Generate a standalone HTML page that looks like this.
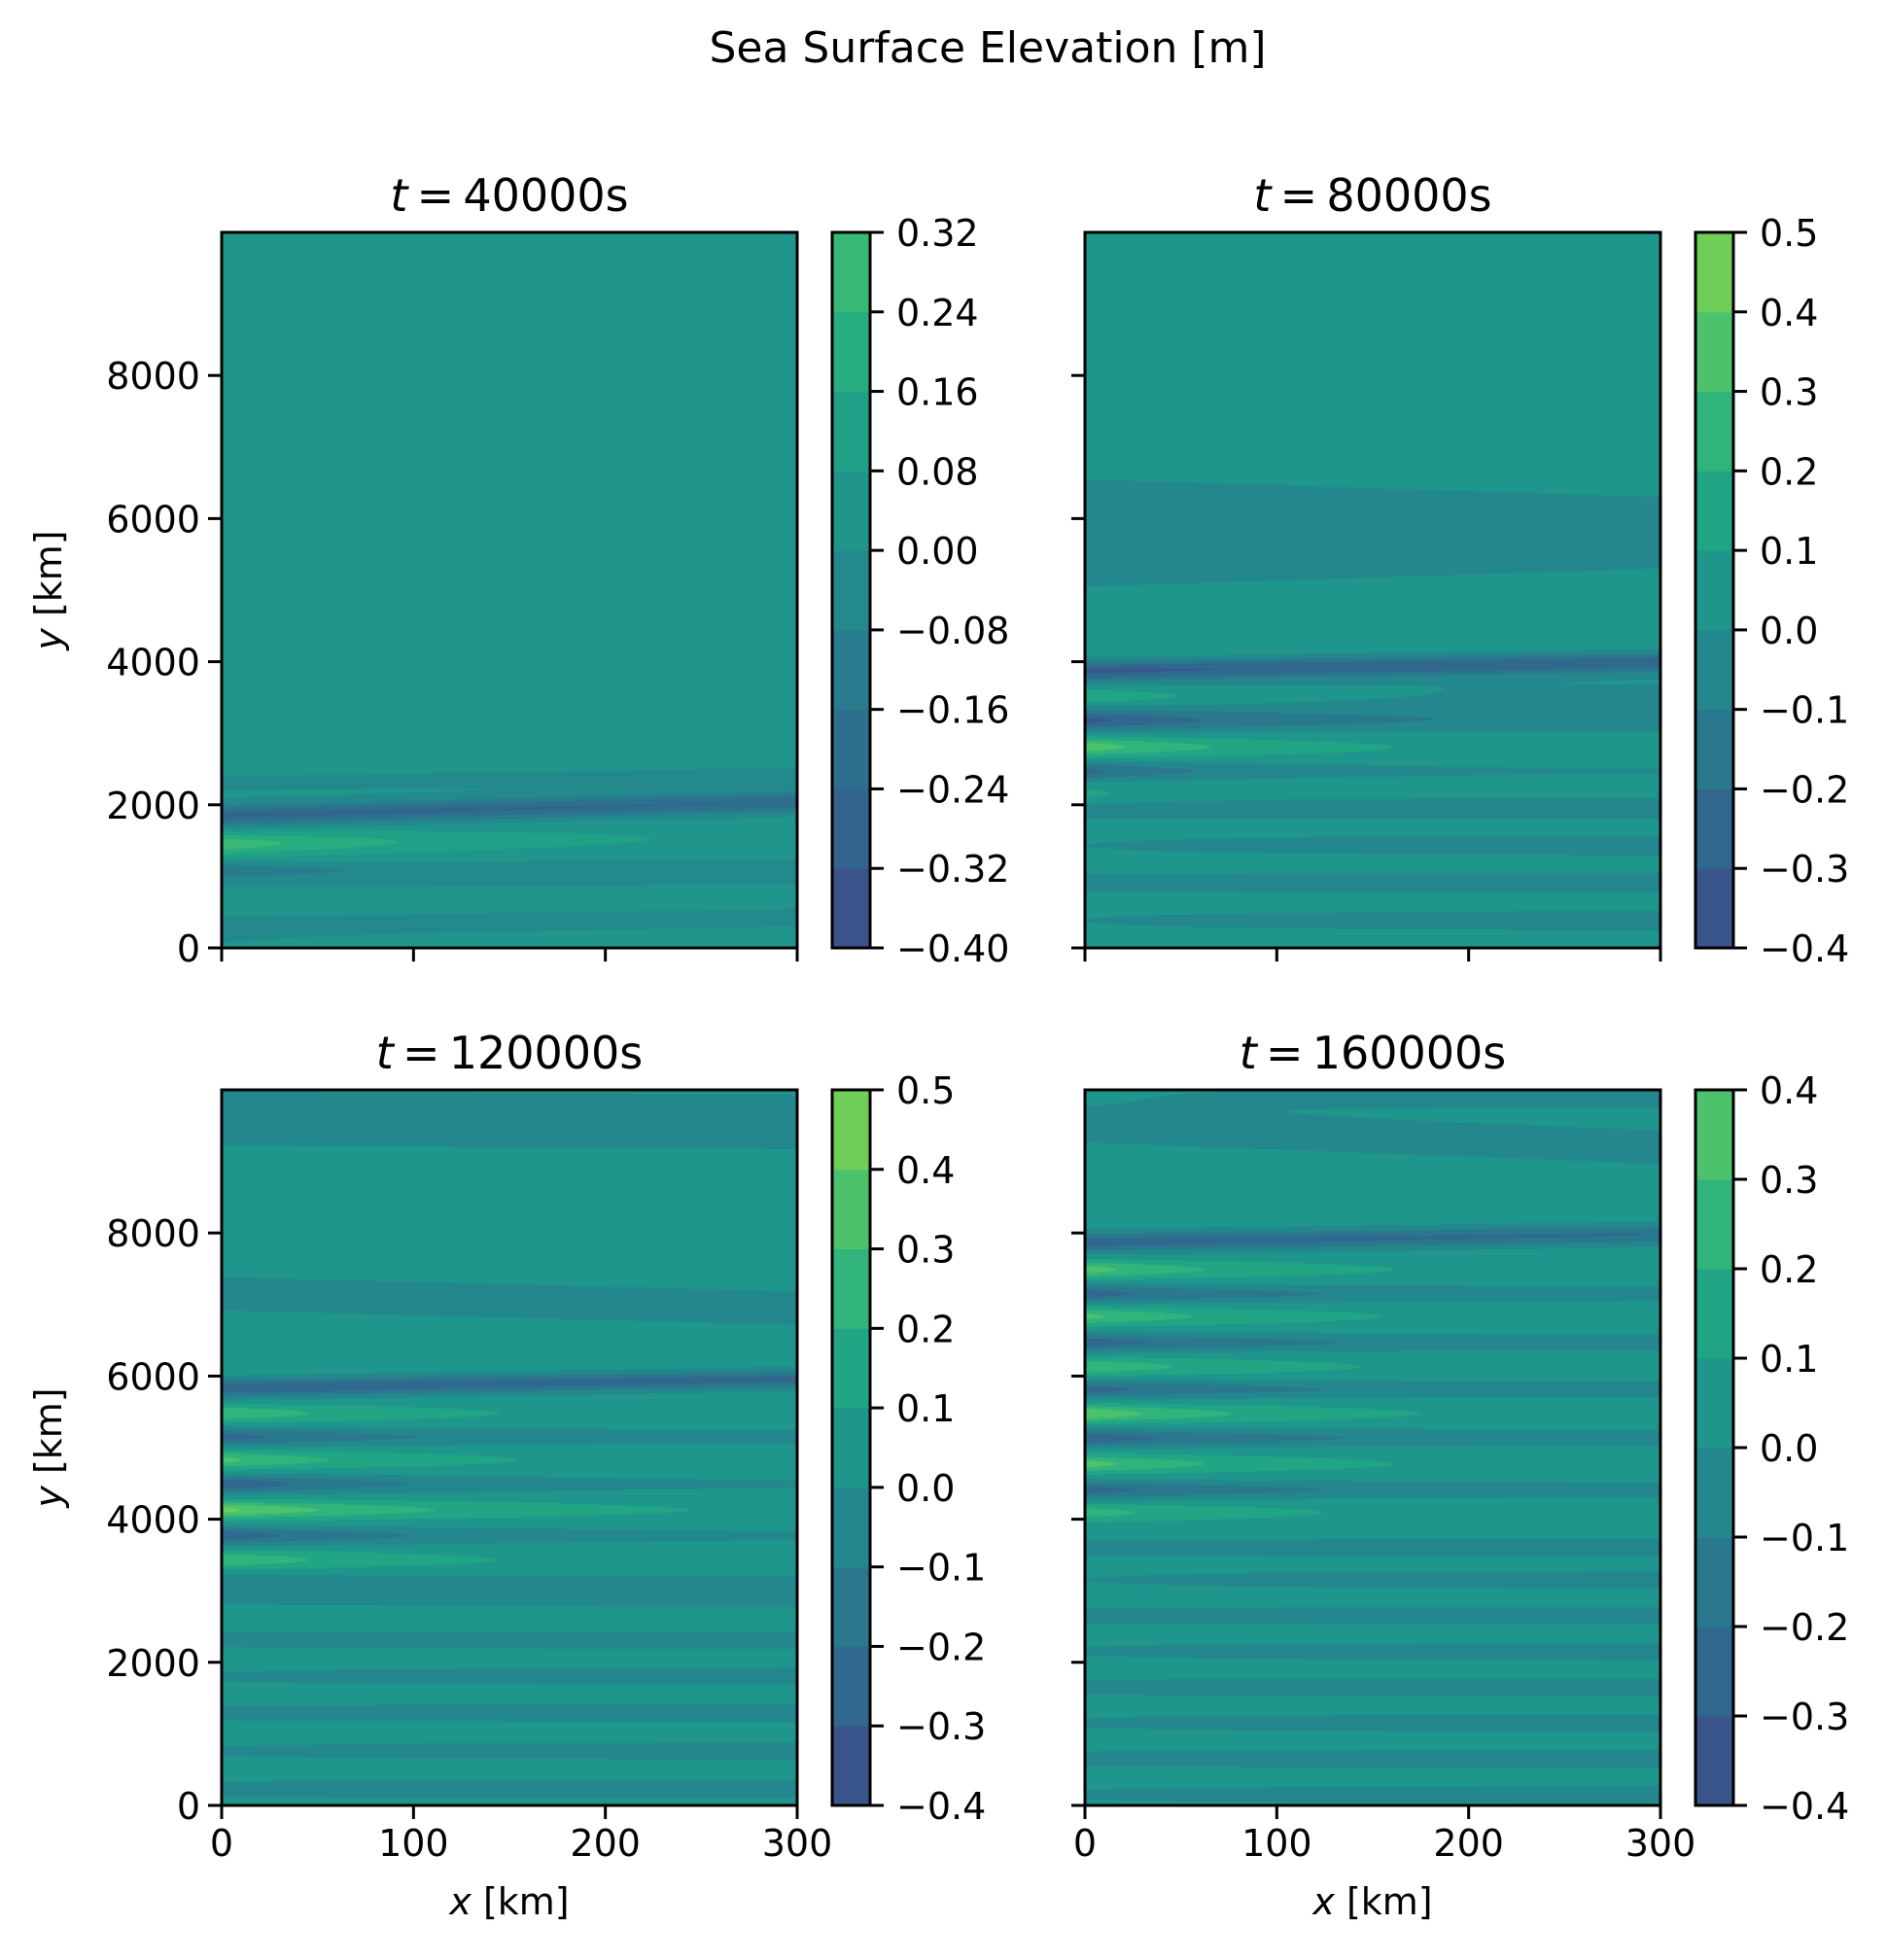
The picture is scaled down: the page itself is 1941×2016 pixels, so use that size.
<!DOCTYPE html>
<html><head><meta charset="utf-8">
<style>
html,body{margin:0;padding:0;background:#fff;}
#fig{position:relative;width:1941px;height:2016px;overflow:hidden;font-family:"DejaVu Sans","Liberation Sans",sans-serif;}
canvas{position:absolute;}
svg{position:absolute;left:0;top:0;}
text{font-family:"DejaVu Sans","Liberation Sans",sans-serif;fill:#000;}
</style></head>
<body>
<div id="fig">
<canvas id="c0" width="592" height="736" style="left:228px;top:239px"></canvas>
<canvas id="c1" width="592" height="736" style="left:1116px;top:239px"></canvas>
<canvas id="c2" width="592" height="736" style="left:228px;top:1121px"></canvas>
<canvas id="c3" width="592" height="736" style="left:1116px;top:1121px"></canvas>
<svg id="ov" width="1941" height="2016"></svg>
</div>
<script>
// ---- data ----
const panelTitles = ["40000", "80000", "120000", "160000"];
const xTicks = [0, 100, 200, 300];
const yTicks = [0, 2000, 4000, 6000, 8000];
const levels0 = [-0.40,-0.32,-0.24,-0.16,-0.08,0.00,0.08,0.16,0.24,0.32];
const levels1 = [-0.4,-0.3,-0.2,-0.1,0.0,0.1,0.2,0.3,0.4,0.5];
const levels2 = [-0.4,-0.3,-0.2,-0.1,0.0,0.1,0.2,0.3,0.4,0.5];
const levels3 = [-0.4,-0.3,-0.2,-0.1,0.0,0.1,0.2,0.3,0.4];
const cbLabels0 = ["\u22120.40","\u22120.32","\u22120.24","\u22120.16","\u22120.08","0.00","0.08","0.16","0.24","0.32"];
const cbLabels1 = ["\u22120.4","\u22120.3","\u22120.2","\u22120.1","0.0","0.1","0.2","0.3","0.4","0.5"];
const cbLabels2 = ["\u22120.4","\u22120.3","\u22120.2","\u22120.1","0.0","0.1","0.2","0.3","0.4","0.5"];
const cbLabels3 = ["\u22120.4","\u22120.3","\u22120.2","\u22120.1","0.0","0.1","0.2","0.3","0.4"];
const base = [0.04, 0.05, 0.05, 0.05];
const yc0_0 = [2300,1850,1450,1100,980,700,300,100];
const yc1_0 = [2420,2040,1550,1150,1020,650,420,100];
const a0_0  = [-0.05,-0.30,0.26,-0.14,-0.08,0.02,-0.09,-0.03];
const a1_0  = [-0.05,-0.27,0.0,-0.04,-0.08,0.0,-0.08,0.0];
const dk_0  = [150,250,120,50,300,100,300,100];
const w0_0  = [200,150,150,100,160,120,150,100];
const w1_0  = [200,150,150,100,160,120,140,100];

const yc0_1 = [5800,3870,3510,3400,3170,2810,2470,2130,1950,1430,910,380];
const yc1_1 = [5800,3990,3510,3400,3170,2810,2470,2130,1950,1430,910,380];
const a0_1  = [-0.10,-0.35,0.22,-0.10,-0.32,0.32,-0.28,0.10,-0.10,-0.05,-0.08,-0.05];
const a1_1  = [-0.10,-0.28,-0.01,-0.10,-0.05,0.0,-0.05,0.0,-0.10,-0.10,-0.10,-0.10];
const dk_1  = [500,400,110,300,90,90,70,50,150,150,150,150];
const w0_1  = [900,140,130,330,130,130,120,120,170,170,170,170];
const w1_1  = [600,140,130,330,130,130,120,120,170,170,170,170];

const yc0_2 = [9600,7150,5830,5480,5150,4830,4490,4130,3770,3430,3090,2895,2313,1803,1293,760,226];
const yc1_2 = [9550,6950,5960,5480,5150,4830,4490,4130,3770,3430,3090,2895,2313,1803,1293,760,226];
const a0_2  = [-0.10,-0.10,-0.32,0.25,-0.30,0.28,-0.35,0.38,-0.32,0.25,-0.12,-0.06,-0.08,-0.06,-0.08,-0.06,-0.08];
const a1_2  = [-0.10,-0.10,-0.25,0.0,-0.08,0.0,-0.05,0.0,-0.05,0.0,-0.08,-0.10,-0.10,-0.10,-0.10,-0.10,-0.10];
const dk_2  = [500,500,400,90,90,90,90,120,100,90,150,150,150,150,150,150,150];
const w0_2  = [450,280,130,120,120,120,120,120,120,120,150,150,150,150,150,150,150];
const w1_2  = [450,280,130,120,120,120,120,120,120,120,150,150,150,150,150,150,150];

const yc0_3 = [9900,9500,7870,7490,7150,6834,6470,6132,5815,5475,5135,4773,4410,4094,3600,3150,2650,2150,1650,1150,650,150];
const yc1_3 = [9900,9200,7980,7490,7150,6834,6470,6132,5815,5475,5135,4773,4410,4094,3600,3150,2650,2150,1650,1150,650,150];
const a0_3  = [-0.02,-0.10,-0.30,0.30,-0.30,0.28,-0.32,0.25,-0.30,0.35,-0.33,0.30,-0.30,0.20,-0.08,-0.05,-0.08,-0.06,-0.08,-0.06,-0.08,-0.06];
const a1_3  = [-0.10,-0.10,-0.22,0.0,-0.10,0.0,-0.10,0.0,-0.10,0.0,-0.10,0.0,-0.10,0.0,-0.10,-0.10,-0.10,-0.10,-0.10,-0.10,-0.10,-0.10];
const dk_3  = [120,500,300,90,90,90,90,90,90,90,90,90,90,90,150,150,150,150,150,150,150,150];
const w0_3  = [180,280,140,120,120,120,120,120,120,120,120,120,120,120,150,150,150,150,150,150,150,150];
const w1_3  = [180,280,140,120,120,120,120,120,120,120,120,120,120,120,150,150,150,150,150,150,150,150];

// ---- geometry ----
const AX = [[228,239],[1116,239],[228,1121],[1116,1121]];
const AW = 592, AH = 736, XMAX = 300, YMAX = 10000;
const CB = [[856,239],[1744,239],[856,1121],[1744,1121]];
const CBW = 39;

const vir = [[0.20,"#414487"],[0.25,"#3b528b"],[0.30,"#33638d"],[0.35,"#2d708e"],[0.40,"#287d8e"],[0.45,"#238a8d"],[0.50,"#1f968b"],[0.55,"#20a386"],[0.60,"#29af7f"],[0.65,"#3dbc74"],[0.70,"#56c667"],[0.75,"#75d054"],[0.80,"#95d840"],[0.85,"#bade28"],[0.90,"#bddf26"]];
function hex(h){return [parseInt(h.substr(1,2),16),parseInt(h.substr(3,2),16),parseInt(h.substr(5,2),16)];}
function viridis(t){
  if(t<=vir[0][0]) return hex(vir[0][1]);
  for(let i=1;i<vir.length;i++){ if(t<=vir[i][0]){const a=vir[i-1],b=vir[i];const f=(t-a[0])/(b[0]-a[0]);const ca=hex(a[1]),cb=hex(b[1]);return ca.map((v,k)=>Math.round(v+(cb[k]-v)*f));}}
  return hex(vir[vir.length-1][1]);
}
function levelColor(mid){return viridis(0.47+mid*0.6);}

const LEV=[levels0,levels1,levels2,levels3];
const LAB=[cbLabels0,cbLabels1,cbLabels2,cbLabels3];
const ST=[[yc0_0,yc1_0,a0_0,a1_0,dk_0,w0_0,w1_0],[yc0_1,yc1_1,a0_1,a1_1,dk_1,w0_1,w1_1],[yc0_2,yc1_2,a0_2,a1_2,dk_2,w0_2,w1_2],[yc0_3,yc1_3,a0_3,a1_3,dk_3,w0_3,w1_3]];

function field(p,x,y){
  const [yc0,yc1,a0,a1,dk,w0,w1]=ST[p];
  let v=base[p];
  for(let i=0;i<yc0.length;i++){
    const f=x/XMAX;
    const yc=yc0[i]+(yc1[i]-yc0[i])*f;
    const w=w0[i]+(w1[i]-w0[i])*f;
    const A=a1[i]+(a0[i]-a1[i])*Math.exp(-x/dk[i]);
    const d=(y-yc)/w;
    v+=A*Math.exp(-d*d);
  }
  return v;
}
for(let p=0;p<4;p++){
  const cv=document.getElementById('c'+p);
  const ctx=cv.getContext('2d');
  const img=ctx.createImageData(AW,AH);
  const lv=LEV[p];
  const cols=[];
  for(let i=0;i<lv.length-1;i++) cols.push(levelColor((lv[i]+lv[i+1])/2));
  for(let py=0;py<AH;py++){
    const y=(1-(py+0.5)/AH)*YMAX;
    for(let px=0;px<AW;px++){
      const x=(px+0.5)/AW*XMAX;
      const v=field(p,x,y);
      let k=0; while(k<cols.length-1 && v>lv[k+1]) k++;
      const c=cols[k]; const o=(py*AW+px)*4;
      img.data[o]=c[0];img.data[o+1]=c[1];img.data[o+2]=c[2];img.data[o+3]=255;
    }
  }
  ctx.putImageData(img,0,0);
}

// ---- overlay ----
const NS="http://www.w3.org/2000/svg";
const svg=document.getElementById('ov');
function el(tag,attrs,txt){const e=document.createElementNS(NS,tag);for(const k in attrs)e.setAttribute(k,attrs[k]);if(txt!==undefined)e.textContent=txt;svg.appendChild(e);return e;}
const sup=el('text',{x:1016,y:64,'font-size':44,'text-anchor':'middle'},'Sea Surface Elevation [m]');



for(let p=0;p<4;p++){
  const [ax,ay]=AX[p];
  const sx=v=>ax+v/XMAX*AW, sy=v=>ay+AH-v/YMAX*AH;
  const t=el('text',{x:ax+AW/2,y:ay-22,'font-size':46,'text-anchor':'middle'});
  
  
  const ti=document.createElementNS(NS,'tspan');ti.setAttribute('font-style','italic');ti.textContent='t';t.appendChild(ti);
  const tr=document.createElementNS(NS,'tspan');tr.textContent='\u2009=\u2009'+panelTitles[p]+'s';t.appendChild(tr);
  const fr=el('rect',{x:ax,y:ay,width:AW,height:AH,fill:'none',stroke:'#000','stroke-width':3});
  
  
  xTicks.forEach(v=>{
    const tk=el('line',{x1:sx(v),x2:sx(v),y1:ay+AH,y2:ay+AH+14,stroke:'#000','stroke-width':3});
    
    
    if(p>=2){
      const l=el('text',{x:sx(v),y:ay+AH+52,'font-size':38,'text-anchor':'middle'},String(v));
      
      
    }
  });
  yTicks.forEach(v=>{
    const tk=el('line',{x1:ax-14,x2:ax,y1:sy(v),y2:sy(v),stroke:'#000','stroke-width':3});
    
    
    if(p%2===0){
      const l=el('text',{x:ax-22,y:sy(v)+14,'font-size':38,'text-anchor':'end'},String(v));
      
      
    }
  });
  if(p%2===0){
    const yl=el('text',{x:0,y:0,'font-size':38,'text-anchor':'middle',transform:`translate(63,${ay+AH/2}) rotate(-90)`});
    
    
    const a=document.createElementNS(NS,'tspan');a.setAttribute('font-style','italic');a.textContent='y';yl.appendChild(a);
    const b=document.createElementNS(NS,'tspan');b.textContent=' [km]';yl.appendChild(b);
  }
  if(p>=2){
    const xl=el('text',{x:ax+AW/2,y:ay+AH+112,'font-size':38,'text-anchor':'middle'});
    
    
    const a=document.createElementNS(NS,'tspan');a.setAttribute('font-style','italic');a.textContent='x';xl.appendChild(a);
    const b=document.createElementNS(NS,'tspan');b.textContent=' [km]';xl.appendChild(b);
  }
  const [cx,cy]=CB[p];const lv=LEV[p];const n=lv.length-1;
  const cyv=v=>cy+AH-(v-lv[0])/(lv[n]-lv[0])*AH;
  for(let i=0;i<n;i++){
    const c=levelColor((lv[i]+lv[i+1])/2);
    const r=el('rect',{x:cx,y:cyv(lv[i+1]),width:CBW,height:cyv(lv[i])-cyv(lv[i+1])+0.5,fill:`rgb(${c[0]},${c[1]},${c[2]})`});
    
    
  }
  const cf=el('rect',{x:cx,y:cy,width:CBW,height:AH,fill:'none',stroke:'#000','stroke-width':3});
  
  
  lv.forEach((v,i)=>{
    const tk=el('line',{x1:cx+CBW,x2:cx+CBW+14,y1:cyv(v),y2:cyv(v),stroke:'#000','stroke-width':3});
    
    
    const l=el('text',{x:cx+CBW+27,y:cyv(v)+14,'font-size':38},LAB[p][i]);
    
    
  });
}
</script>
</body></html>
